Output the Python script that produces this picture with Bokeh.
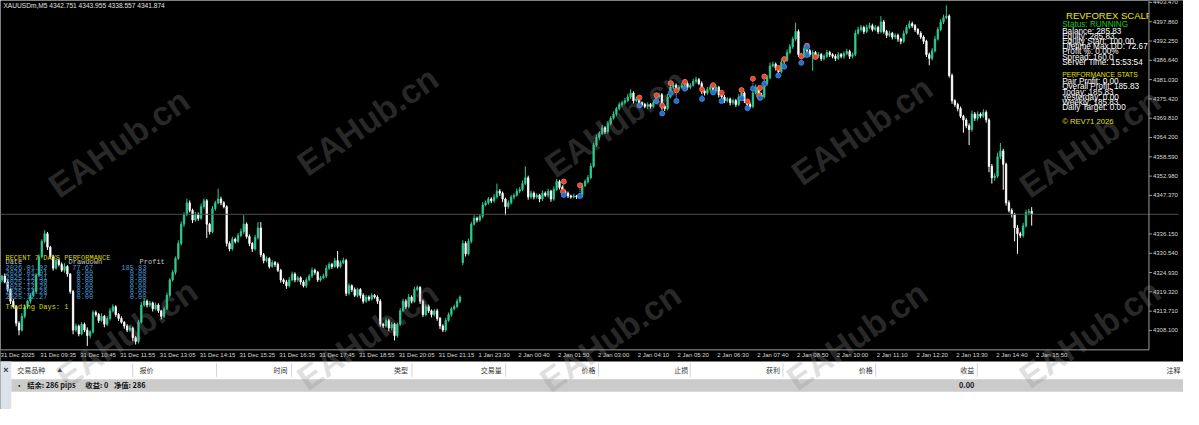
from bokeh.plotting import figure
from bokeh.models import Range1d, ColumnDataSource
from bokeh.core.properties import value
from bokeh.embed import file_html
from bokeh.resources import INLINE

# XAUUSDm M5 closes (31 Dec 08:25 .. 2 Jan 15:50)
closes = [
    4322.8, 4323.9, 4322.2, 4320.0, 4316.6, 4315.0, 4310.2, 4308.2, 4312.2, 4315.0,
    4316.6, 4318.3, 4319.4, 4324.2, 4329.5, 4334.0, 4336.2, 4332.3, 4329.5, 4326.2,
    4328.4, 4327.3, 4325.6, 4326.7, 4324.5, 4319.4, 4308.2, 4309.4, 4307.1, 4309.9,
    4308.2, 4306.6, 4307.7, 4313.3, 4312.7, 4311.0, 4312.2, 4309.9, 4311.6, 4313.8,
    4315.0, 4312.7, 4311.6, 4310.5, 4309.4, 4308.2, 4308.8, 4306.0, 4304.9, 4310.5,
    4315.5, 4316.6, 4315.5, 4316.1, 4314.4, 4315.5, 4313.8, 4312.2, 4314.4, 4318.3,
    4322.8, 4325.0, 4329.0, 4333.4, 4339.0, 4341.8, 4345.2, 4343.0, 4340.2, 4341.8,
    4340.7, 4344.1, 4345.8, 4339.0, 4336.8, 4343.5, 4345.2, 4346.3, 4345.2, 4344.1,
    4333.4, 4331.8, 4334.6, 4334.0, 4335.7, 4336.8, 4339.0, 4335.4, 4333.4, 4331.8,
    4335.1, 4337.9, 4330.1, 4328.4, 4329.0, 4326.7, 4327.8, 4327.3, 4325.6, 4322.8,
    4322.2, 4321.1, 4322.8, 4324.5, 4322.8, 4323.4, 4322.2, 4321.1, 4322.8, 4323.9,
    4325.6, 4325.0, 4322.8, 4323.4, 4323.9, 4326.2, 4327.3, 4326.7, 4328.4, 4326.7,
    4327.8, 4328.4, 4318.9, 4321.1, 4320.0, 4318.3, 4320.0, 4318.3, 4316.6, 4317.8,
    4317.2, 4318.3, 4317.8, 4316.6, 4309.9, 4309.4, 4311.0, 4308.8, 4309.9, 4306.6,
    4309.9, 4313.8, 4316.6, 4315.0, 4317.8, 4316.6, 4320.0, 4320.6, 4316.6, 4312.7,
    4315.0, 4313.8, 4312.7, 4313.8, 4311.6, 4309.4, 4308.2, 4311.0, 4312.7, 4314.4,
    4315.0, 4316.6, 4317.8, 4333.4, 4330.4, 4334.0, 4339.0, 4340.7, 4340.2, 4341.3,
    4344.6, 4345.2, 4346.3, 4345.8, 4346.9, 4348.6, 4348.0, 4346.3, 4344.1, 4345.2,
    4346.9, 4347.4, 4348.6, 4349.1, 4350.8, 4352.5, 4346.9, 4348.0, 4346.9, 4347.4,
    4346.3, 4348.0, 4347.4, 4348.6, 4346.3, 4349.1, 4351.4, 4349.7, 4348.6, 4348.0,
    4347.2, 4346.9, 4347.2, 4346.9, 4347.4, 4350.2, 4351.4, 4352.5, 4355.8, 4362.0,
    4364.2, 4365.4, 4367.0, 4365.9, 4368.2, 4369.8, 4371.0, 4372.6, 4373.8, 4374.3,
    4374.9, 4376.0, 4377.1, 4374.9, 4375.4, 4374.3, 4373.8, 4373.2, 4373.8, 4373.2,
    4374.3, 4376.0, 4376.6, 4373.2, 4372.6, 4376.0, 4378.8, 4379.4, 4378.2, 4378.8,
    4379.4, 4379.9, 4378.8, 4379.4, 4380.5, 4381.0, 4379.9, 4377.7, 4377.1, 4378.2,
    4378.8, 4377.7, 4378.8, 4376.6, 4376.0, 4374.9, 4375.4, 4374.3, 4374.9, 4373.8,
    4376.0, 4377.1, 4374.9, 4373.8, 4373.2, 4377.1, 4378.8, 4376.6, 4376.0, 4379.9,
    4381.6, 4385.0, 4385.5, 4384.4, 4383.3, 4386.1, 4386.6, 4388.9, 4390.6, 4392.8,
    4395.0, 4388.3, 4387.8, 4390.0, 4389.4, 4388.3, 4388.9, 4387.8, 4388.3, 4387.2,
    4387.8, 4388.9, 4388.3, 4387.8, 4387.2, 4388.3, 4387.8, 4388.6, 4389.2, 4387.8,
    4388.3, 4394.5, 4395.6, 4396.2, 4395.0, 4396.2, 4396.7, 4395.6, 4396.2, 4395.0,
    4397.8, 4395.0, 4393.9, 4394.5, 4393.4, 4393.9, 4392.8, 4392.2, 4394.5, 4396.2,
    4397.3, 4396.7, 4395.6, 4394.5, 4393.4, 4392.2, 4388.3, 4387.2, 4389.4, 4392.8,
    4395.6, 4397.8, 4399.0, 4399.5, 4382.2, 4374.9, 4373.8, 4372.6, 4370.4, 4369.3,
    4367.6, 4366.5, 4371.0, 4369.8, 4371.0, 4370.4, 4371.5, 4369.3, 4355.8, 4352.5,
    4353.0, 4358.6, 4360.3, 4356.4, 4345.2, 4343.0, 4341.8, 4337.9, 4336.2, 4335.7,
    4338.5, 4342.4, 4342.751, 4341.874,
]
# wick lengths above / below the body
upper_wick = [
    0.6, 0.4, 0.8, 0.5, 0.3, 0.7, 0.4, 0.6, 0.9, 0.5, 0.4, 0.6, 0.8, 0.5, 0.7, 0.6, 1.0, 0.5, 0.4, 0.6,
    0.8, 0.5, 0.6, 0.9, 0.4, 0.3, 0.5, 0.7, 0.4, 0.6, 0.5, 0.8, 0.4, 0.7, 0.6, 0.5, 0.9, 0.4, 0.6, 0.8,
    0.7, 0.4, 0.5, 0.6, 0.3, 0.5, 0.7, 0.4, 0.5, 0.6, 0.9, 0.8, 0.5, 0.6, 0.4, 0.7, 0.5, 0.3, 0.6, 0.8,
    0.5, 0.7, 0.6, 0.9, 0.8, 0.6, 1.2, 0.7, 0.5, 0.8, 0.6, 0.9, 0.7, 0.5, 0.4, 0.8, 0.6, 3.0, 0.7, 0.5,
    0.4, 0.6, 0.8, 0.5, 0.7, 0.9, 2.6, 0.5, 0.6, 0.4, 0.8, 1.7, 1.7, 0.5, 0.6, 0.4, 0.7, 0.5, 0.6, 0.4,
    0.5, 0.6, 0.8, 0.7, 0.5, 0.6, 0.4, 0.5, 0.7, 0.6, 0.8, 0.5, 0.4, 0.6, 0.7, 0.9, 0.6, 0.5, 0.8, 2.8,
    0.6, 0.9, 0.5, 0.7, 0.4, 0.6, 0.5, 0.4, 0.6, 0.7, 0.5, 0.6, 0.4, 0.5, 0.6, 0.4, 0.7, 0.5, 0.6, 0.4,
    0.5, 0.8, 0.7, 0.6, 0.9, 0.5, 0.8, 0.6, 0.4, 0.5, 0.7, 0.6, 0.4, 0.5, 0.6, 0.4, 0.5, 0.7, 0.6, 0.5,
    0.6, 0.7, 0.5, 0.9, 0.6, 0.8, 0.7, 0.9, 0.5, 0.6, 0.8, 0.7, 0.6, 0.5, 0.9, 2.2, 0.6, 0.5, 0.4, 0.7,
    0.6, 0.5, 0.8, 0.7, 0.9, 3.3, 0.6, 0.7, 0.5, 0.6, 0.4, 0.8, 0.5, 0.7, 0.4, 0.9, 0.8, 0.5, 0.6, 0.4,
    0.5, 0.4, 0.6, 0.3, 0.5, 0.7, 0.6, 0.8, 0.9, 0.7, 0.8, 0.6, 0.9, 0.5, 0.7, 0.6, 0.8, 0.5, 0.7, 0.6,
    0.8, 0.9, 1.1, 0.5, 0.7, 0.6, 0.4, 0.5, 0.6, 0.4, 0.7, 0.8, 0.6, 0.5, 0.4, 0.9, 0.7, 0.8, 0.5, 0.6,
    0.7, 0.9, 0.5, 0.6, 0.8, 0.9, 0.5, 0.6, 0.4, 0.7, 0.6, 0.5, 0.7, 0.4, 0.5, 0.6, 0.5, 0.4, 0.6, 0.5,
    0.8, 0.7, 0.5, 0.4, 0.6, 0.9, 0.8, 0.5, 0.6, 0.9, 0.8, 1.0, 0.7, 0.5, 0.6, 0.8, 0.7, 0.9, 0.8, 0.7,
    2.6, 0.6, 0.5, 0.9, 0.6, 0.5, 0.6, 0.4, 0.7, 0.5, 0.6, 0.8, 0.5, 0.4, 0.6, 0.7, 0.5, 0.6, 0.8, 0.5,
    0.6, 0.9, 0.8, 0.7, 0.5, 0.8, 0.9, 0.6, 0.7, 0.5, 1.7, 0.6, 0.5, 0.7, 0.4, 0.6, 0.5, 0.4, 0.8, 0.7,
    0.9, 0.6, 0.5, 0.4, 0.6, 0.5, 0.4, 0.6, 0.8, 0.9, 0.7, 0.8, 0.9, 3.1, 0.5, 0.6, 0.4, 0.5, 0.6, 0.4,
    0.5, 0.7, 1.0, 0.6, 0.8, 0.5, 0.9, 0.6, 0.5, 0.7, 0.8, 1.2, 2.3, 0.6, 0.5, 0.7, 0.6, 0.5, 0.8, 0.6,
    0.9, 0.8, 0.7, 1.2,
]
lower_wick = [
    0.5, 0.7, 0.4, 0.6, 0.8, 0.5, 0.9, 1.5, 0.4, 0.6, 0.5, 0.7, 0.4, 0.6, 0.5, 0.4, 0.6, 0.8, 0.5, 0.7,
    0.4, 0.6, 0.5, 0.7, 0.8, 0.6, 1.2, 0.5, 0.7, 0.4, 0.6, 3.0, 0.8, 0.5, 0.6, 0.7, 0.4, 0.9, 0.5, 0.6,
    0.5, 0.6, 0.7, 0.4, 0.8, 0.6, 0.5, 1.0, 0.9, 0.6, 0.4, 0.5, 0.7, 0.6, 0.8, 0.5, 0.6, 0.9, 0.5, 0.4,
    0.6, 0.5, 0.7, 0.4, 0.6, 0.8, 0.5, 0.6, 0.9, 0.5, 0.7, 0.4, 0.6, 4.0, 0.8, 0.5, 0.6, 0.4, 0.7, 0.5,
    0.9, 0.7, 0.5, 0.6, 0.4, 0.5, 0.7, 0.6, 0.8, 0.9, 0.5, 0.6, 0.7, 0.8, 0.5, 0.6, 0.4, 0.7, 0.5, 0.8,
    0.6, 0.9, 0.5, 0.4, 0.7, 0.6, 0.8, 0.5, 0.6, 0.4, 0.5, 0.7, 0.6, 0.5, 0.4, 0.6, 0.5, 0.7, 0.4, 0.6,
    0.5, 0.4, 0.8, 0.6, 0.7, 0.5, 0.6, 0.9, 0.7, 0.5, 0.6, 0.4, 0.5, 0.8, 0.7, 0.6, 0.5, 0.9, 0.6, 1.4,
    0.6, 0.5, 0.4, 0.7, 0.5, 0.6, 0.4, 0.5, 0.8, 0.7, 0.5, 0.6, 0.8, 0.5, 0.7, 0.9, 0.6, 0.5, 0.4, 0.6,
    0.5, 0.4, 0.6, 0.7, 0.8, 0.5, 0.6, 0.4, 0.7, 0.5, 0.6, 0.4, 0.5, 0.7, 0.6, 0.5, 0.8, 0.9, 2.5, 0.6,
    0.5, 0.7, 0.4, 0.6, 0.5, 0.4, 0.8, 0.6, 0.7, 0.5, 0.9, 0.6, 0.5, 0.7, 0.8, 0.5, 0.4, 0.6, 0.7, 0.5,
    0.6, 0.5, 0.4, 0.6, 0.5, 0.7, 0.4, 0.6, 0.5, 0.4, 0.6, 0.8, 0.5, 0.7, 0.6, 0.5, 0.4, 0.6, 0.5, 0.7,
    0.5, 0.4, 0.6, 0.8, 0.5, 0.7, 0.6, 0.5, 0.7, 0.6, 0.5, 0.4, 0.6, 0.9, 0.7, 0.5, 0.4, 0.6, 0.8, 0.5,
    0.4, 0.6, 0.7, 0.5, 0.4, 0.6, 0.5, 0.8, 0.7, 0.5, 0.6, 0.7, 0.5, 0.8, 0.6, 0.7, 0.5, 0.8, 0.6, 0.7,
    0.5, 0.6, 0.7, 0.8, 0.6, 0.5, 0.4, 0.7, 0.6, 0.5, 0.6, 0.5, 0.4, 0.7, 0.6, 0.5, 0.6, 0.4, 0.5, 0.6,
    0.5, 0.7, 0.6, 0.5, 0.8, 0.6, 4.7, 0.6, 0.5, 0.7, 0.6, 0.5, 0.7, 0.6, 0.8, 0.5, 0.6, 0.7, 0.5, 0.8,
    0.6, 0.5, 0.4, 0.6, 0.7, 0.5, 0.4, 0.6, 0.5, 0.7, 0.5, 0.6, 0.8, 0.5, 0.7, 0.6, 0.8, 0.9, 0.5, 0.4,
    0.5, 0.6, 0.7, 0.5, 0.6, 0.8, 0.7, 2.0, 0.6, 0.5, 0.4, 0.5, 0.6, 0.4, 0.6, 0.9, 0.7, 0.8, 0.6, 3.7,
    0.7, 4.5, 0.6, 0.8, 0.7, 0.6, 0.5, 0.8, 1.7, 1.7, 0.9, 0.6, 0.7, 7.4, 0.8, 0.6, 0.9, 3.9, 5.8, 0.7,
    0.6, 0.5, 0.8, 3.3,
]
first_open = 4321.6
reopen_bar = 163       # first bar after the new-year break
reopen_price = 4327.8

# EA trade marks: entry (red) and exit (blue) on the same bar
trade_bar = [198.5, 204.2, 225.1, 231.1, 233.1, 236.1, 238.1, 241.1, 247.1, 251.0,
             254.0, 261.0, 263.1, 265.0, 267.5, 269.0, 273.9, 276.0, 282.0, 284.0]
trade_open = [4351.4, 4350.3, 4375.8, 4376.5, 4373.5, 4380.0, 4377.9, 4380.4, 4378.2, 4379.4,
              4377.2, 4378.0, 4374.7, 4381.3, 4378.6, 4381.9, 4384.4, 4387.0, 4387.8, 4390.9]
trade_close = [4347.5, 4347.2, 4373.5, 4374.8, 4371.2, 4377.1, 4374.8, 4378.4, 4375.4, 4377.3,
               4374.8, 4375.6, 4372.7, 4378.4, 4375.7, 4379.8, 4382.2, 4384.8, 4385.9, 4388.2]
extra_open_bar = [198.2, 267.1, 287.0]
extra_open = [4348.5, 4376.4, 4387.6]
extra_close_bar = [284.0]
extra_close = [4390.5]

price_ticks = [4403.470, 4397.860, 4392.250, 4386.640, 4381.030, 4375.420, 4369.810, 4364.200,
               4358.590, 4352.980, 4347.370, 4336.150, 4330.540, 4324.930, 4319.320, 4313.710, 4308.100]
time_bars = [0, 14, 28, 42, 56, 70, 84, 98, 112, 126, 140, 154, 168, 182, 196, 210, 224,
             238, 252, 266, 280, 294, 308, 322, 336, 350, 364]
time_labels = ["31 Dec 2025", "31 Dec 09:35", "31 Dec 10:45", "31 Dec 11:55", "31 Dec 13:05",
               "31 Dec 14:15", "31 Dec 15:25", "31 Dec 16:35", "31 Dec 17:45", "31 Dec 18:55",
               "31 Dec 20:05", "31 Dec 21:15", "1 Jan 23:30", "2 Jan 00:40", "2 Jan 01:50",
               "2 Jan 03:00", "2 Jan 04:10", "2 Jan 05:20", "2 Jan 06:30", "2 Jan 07:40",
               "2 Jan 08:50", "2 Jan 10:00", "2 Jan 11:10", "2 Jan 12:20", "2 Jan 13:30",
               "2 Jan 14:40", "2 Jan 15:50"]

status_lines = ["Balance: 285.83", "Equity: 285.83", "Equity Start: 100.00", "Lifetime Max DD: 72.67",
                "Profit %: 0.00%", "Spread: 160.0", "Server Time: 15:53:54"]
perf_lines = ["Pair Profit: 0.00", "Overall Profit: 185.83", "Today: 185.83", "Yesterday: 0.00",
              "Weekly: 185.83", "Daily Target: 0.00"]
day_dates = ["2026.01.02", "2026.01.01", "2025.12.31", "2025.12.30", "2025.12.29", "2025.12.28", "2025.12.27"]
day_drawdown = ["77.67", "0.00", "0.00", "0.00", "0.00", "0.00", "0.00"]
day_profit = ["185.83", "0.00", "0.00", "0.00", "0.00", "0.00", "0.00"]

BULL = "#2fca8f"
BEAR = "#ffffff"
AXIS = "#9a9a9a"
SANS = "Liberation Sans"
MONO = "Liberation Mono"
CJK = "Noto Sans CJK SC"

# terminal window pixel -> chart coordinates (bars across, price down)
BAR_PX, BAR0_PX = 2.883, -1.4
TOP_PRICE, PX_PRICE = 4404.03, 0.2798
CHART_R, CHART_B = 1164, 363     # right / bottom edge of the price pane
TABLE_T = 375                    # top of the trade table


def bx(px):
    return (px - BAR0_PX) / BAR_PX


def py(px):
    return TOP_PRICE - PX_PRICE * px


def txt(x, y, s, color, size, font=SANS, style="normal", align="left", angle=0.0, alpha=1.0):
    p.text(x=[x], y=[y], text=[s], text_color=color, text_font=value(font),
           text_font_size=f"{size}px", text_font_style=style, text_align=align,
           text_baseline="middle", angle=angle, text_alpha=alpha)


def box(x0, x1, y0, y1, color):
    p.quad(left=[bx(x0)], right=[bx(x1)], top=[py(y0)], bottom=[py(y1)],
           fill_color=color, line_color=None)


n = len(closes)
opens = [first_open] + closes[:-1]
opens[reopen_bar] = reopen_price
highs = [max(o, c) + u for o, c, u in zip(opens, closes, upper_wick)]
lows = [min(o, c) - d for o, c, d in zip(opens, closes, lower_wick)]
colors = [BULL if c >= o else BEAR for o, c in zip(opens, closes)]
src = ColumnDataSource(dict(i=list(range(n)), o=opens, c=closes, h=highs, l=lows, col=colors))

p = figure(width=1183, height=409, output_backend="svg", toolbar_location=None,
           x_range=Range1d(bx(0), bx(1199)), y_range=Range1d(py(425), py(0)),
           x_axis_location=None, y_axis_location=None, min_border=0,
           background_fill_color="black", border_fill_color="black", outline_line_color=None)
p.grid.visible = False

# candles
p.segment("i", "h", "i", "l", line_color="col", line_width=1, source=src)
p.vbar(x="i", width=0.5, top="o", bottom="c", fill_color="col", line_color="col",
       line_width=0.8, source=src)

# trade marks
p.segment(x0=trade_bar, y0=trade_open, x1=trade_bar, y1=trade_close,
          line_color="#b4b4b4", line_dash="1 1", line_width=1)
p.scatter(trade_bar + extra_open_bar, trade_open + extra_open, marker="circle", size=5,
          fill_color="#e8452c", line_color="#f08060", line_width=0.8)
p.scatter(trade_bar + extra_close_bar, trade_close + extra_close, marker="circle", size=5,
          fill_color="#1f6fd1", line_color="#4a8ee0", line_width=0.8)

txt(bx(3), py(5.5), "XAUUSDm,M5  4342.751 4343.955 4338.557 4341.874", "#e0e0e0", 6.6)

# EA info panel, top right (the terminal cuts it at the price scale)
txt(bx(1080), py(16), "REVFOREX SCALPER", "#eaea00", 9.5)
txt(bx(1076), py(25), "Status: RUNNING", "#22c422", 8.2)
for k, s in enumerate(status_lines):
    txt(bx(1076), py(32.3 + 5.3 * k), s, "#ffffff", 8.2)
txt(bx(1076), py(77.3), "PERFORMANCE STATS", "#e0e000", 6.8)
for k, s in enumerate(perf_lines):
    txt(bx(1076), py(84.3 + 5.4 * k), s, "#ffffff", 8.2)
txt(bx(1076), py(126), "\u00a9 REV71 2026", "#e0e000", 7.7)

# recent days table, left
txt(bx(5), py(267.3), "RECENT 7 DAYS PERFORMANCE", "#d8d800", 7, MONO)
txt(bx(5), py(271.7), "Date", "#c8c8c8", 7, MONO)
txt(bx(69), py(271.7), "Drawdown", "#c8c8c8", 7, MONO)
txt(bx(141), py(271.7), "Profit", "#c8c8c8", 7, MONO)
for k, (d, dd, pr) in enumerate(zip(day_dates, day_drawdown, day_profit)):
    yy = py(277.7 + 4.9 * k)
    txt(bx(5), yy, d, "#4b9bd6", 7, MONO)
    txt(bx(94), yy, dd, "#4b9bd6", 7, MONO, align="right")
    txt(bx(148), yy, pr, "#4b9bd6", 7, MONO, align="right")
txt(bx(5), py(318.3), "Trading Days: 1", "#d8d800", 7, MONO)

# price scale and time scale
box(CHART_R, 1199, 0, CHART_B, "black")
box(0, 1199, CHART_B, TABLE_T, "black")
p.segment(x0=[bx(0)], y0=[closes[-1]], x1=[bx(1194)], y1=[closes[-1]], line_color="#4a4f55")
p.segment(x0=[bx(CHART_R)], y0=[py(0)], x1=[bx(CHART_R)], y1=[py(CHART_B)], line_color=AXIS)
p.segment(x0=[bx(0)], y0=[py(CHART_B)], x1=[bx(CHART_R)], y1=[py(CHART_B)], line_color=AXIS)
p.segment(x0=[bx(CHART_R)] * len(price_ticks), y0=price_ticks,
          x1=[bx(CHART_R + 3)] * len(price_ticks), y1=price_ticks, line_color=AXIS)
p.text(x=[bx(CHART_R + 4)] * len(price_ticks), y=price_ticks,
       text=[f"{t:.3f}" for t in price_ticks], text_color="#d8d8d8", text_font=value(SANS),
       text_font_size="6px", text_baseline="middle", text_align="left")
p.text(x=[b + 0.5 for b in time_bars], y=[py(368.6)] * len(time_bars), text=time_labels,
       text_color="#d8d8d8", text_font=value(SANS), text_font_size="6px",
       text_baseline="middle", text_align="left")

# terminal trade table under the chart
box(0, 1199, TABLE_T, 425, "white")
box(0, 11, TABLE_T, 425, "#dce2ea")
box(11, 1199, 393.5, 406.5, "#cbcbcb")
seps = [134, 219, 295, 417, 512, 606, 699, 793, 887, 990]
p.segment(x0=[bx(s) for s in seps], y0=[py(377)] * len(seps),
          x1=[bx(s) for s in seps], y1=[py(391)] * len(seps), line_color="#d4d4d4")
txt(bx(5.5), py(383.5), "\u00d7", "#333333", 9, style="bold", align="center")

heads_left = [(17, "交易品种"), (141, "报价")]
heads_right = [(291, "时间"), (413, "类型"), (508, "交易量"), (603, "价格"), (697, "止损"),
               (790, "获利"), (884, "价格"), (987, "收益"), (1196, "注释")]
for x, s in heads_left:
    txt(bx(x), py(383.7), s, "#333333", 7, CJK)
for x, s in heads_right:
    txt(bx(x), py(383.7), s, "#333333", 7, CJK, align="right")
txt(bx(60), py(383.2), "\u25b2", "#333333", 5, CJK, align="center")

txt(bx(19), py(400), "\u2022", "#111111", 7, CJK, style="bold", align="center")
txt(bx(27), py(400), "结余: 286 pips", "#111111", 7.3, CJK, style="bold")
txt(bx(86), py(400), "收益: 0", "#111111", 7.3, CJK, style="bold")
txt(bx(115), py(400), "净值: 286", "#111111", 7.3, CJK, style="bold")
txt(bx(987), py(400), "0.00", "#111111", 7.3, CJK, style="bold", align="right")

# watermark over the whole screenshot (dark on black, light on white)
wm_a = [(120, 148), (372, 125), (623, 127), (873, 135), (1104, 148)]
wm_b = [(128, 346), (372, 348), (618, 350), (868, 348), (1104, 346)]
for cx, cy in wm_a + wm_b:
    txt(bx(cx), py(cy), "EAHub.cn", "#909090", 34, style="bold", align="center",
        angle=0.61, alpha=0.28)

open("out.html", "w").write(file_html(p, INLINE))
